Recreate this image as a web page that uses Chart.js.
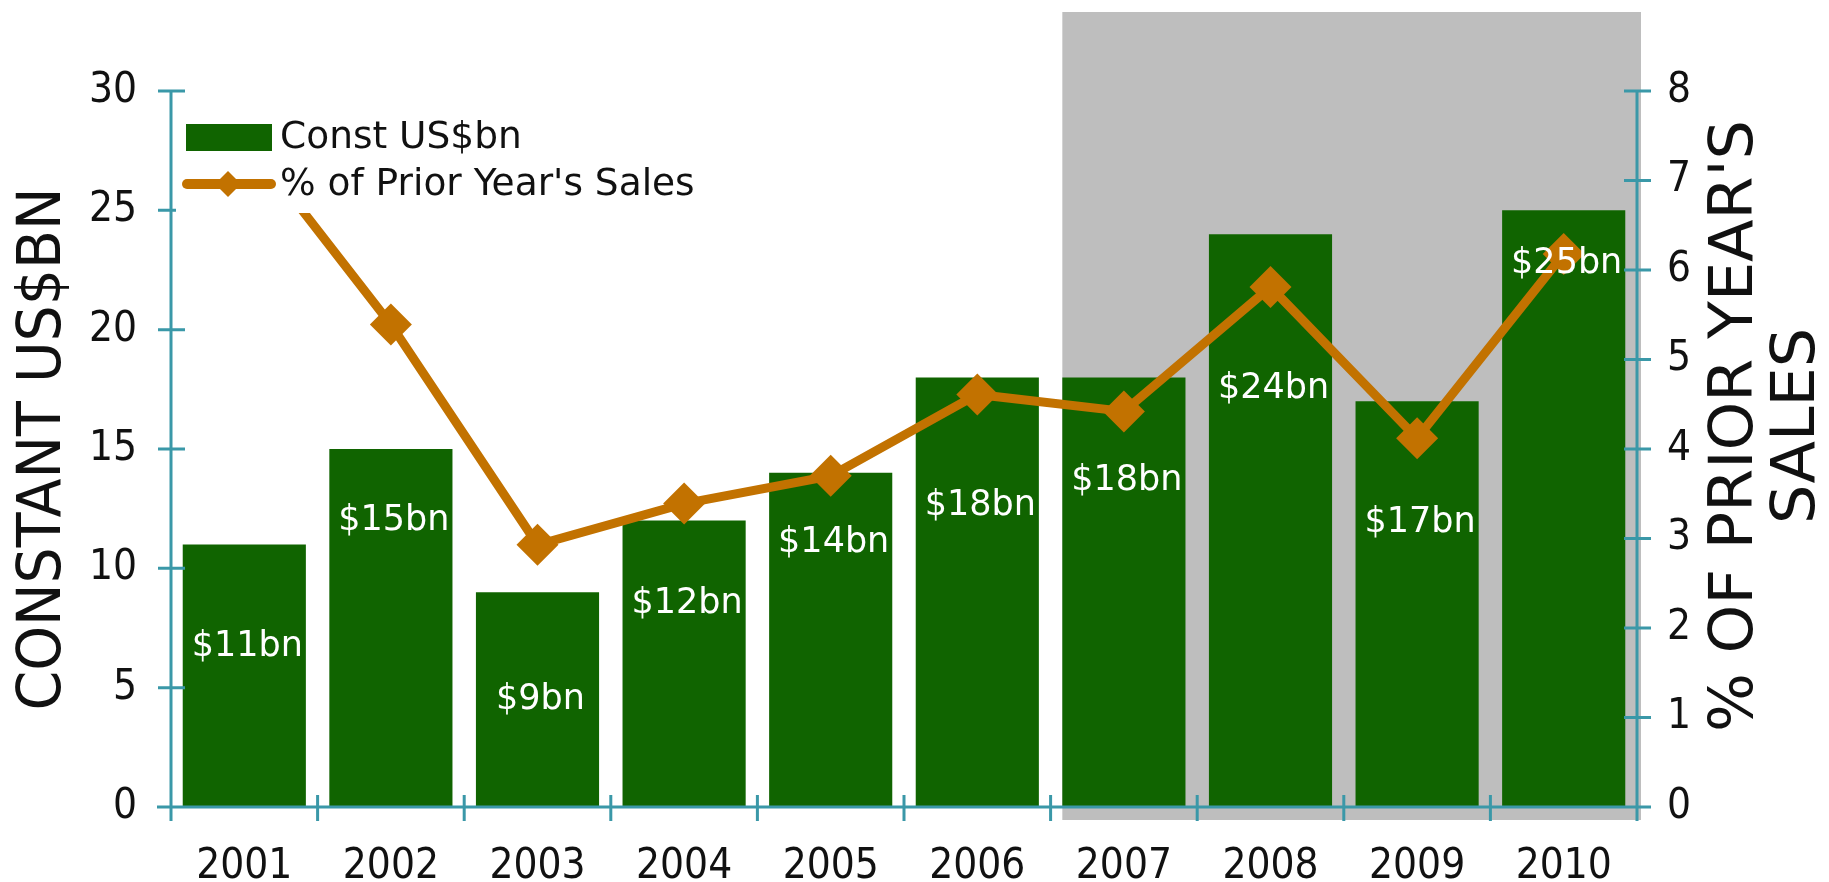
<!DOCTYPE html>
<html>
<head>
<meta charset="utf-8">
<script src="https://cdn.jsdelivr.net/npm/chart.js@4.4.1/dist/chart.umd.min.js"></script>
<style>
  html, body { margin: 0; padding: 0; background: #ffffff; }
  #wrap { width: 1829px; height: 882px; position: relative; }
  canvas { display: block; }
</style>
</head>
<body>
<div id="wrap"><canvas id="chart" width="1829" height="882"></canvas></div>
<script>
// ---------------- data ----------------
const years = ['2001', '2002', '2003', '2004', '2005', '2006', '2007', '2008', '2009', '2010'];
const constUSbn = [11, 15, 9, 12, 14, 18, 18, 24, 17, 25];
const pctPriorYearSales = [7.5, 5.39, 2.93, 3.39, 3.70, 4.61, 4.42, 5.81, 4.12, 6.18];
const barValueLabels = ['$11bn', '$15bn', '$9bn', '$12bn', '$14bn', '$18bn', '$18bn', '$24bn', '$17bn', '$25bn'];
const leftTicks = [0, 5, 10, 15, 20, 25, 30];
const rightTicks = [0, 1, 2, 3, 4, 5, 6, 7, 8];
const seriesNames = ['Const US$bn', "% of Prior Year's Sales"];
const leftTitle = 'CONSTANT US$BN';
const rightTitleLines = ["% OF PRIOR YEAR'S", 'SALES'];
const shadedFromIndex = 6; // shaded period starts at 2007

// ---------------- style ----------------
const GREEN = '#106400';
const ORANGE = '#C27200';
const AXIS = '#3A98A8';
const SHADE = '#BEBEBE';
const TXT = '#111111';
const COND = "'DejaVu Sans Condensed', 'DejaVu Sans', sans-serif";
const SANS = "'DejaVu Sans', Verdana, sans-serif";
// vertical placement of each in-bar label, as a fraction of the bar height
const labelHeightFrac = [0.61, 0.80, 0.50, 0.71, 0.79, 0.70, 0.76, 0.73, 0.70, 0.91];

function drawStretchedText(ctx, text, cx, cy, font, targetLen) {
  ctx.font = font;
  const w = ctx.measureText(text).width;
  const s = targetLen ? targetLen / w : 1;
  ctx.save();
  ctx.translate(cx, cy);
  ctx.rotate(-Math.PI / 2);
  ctx.scale(s, 1);
  ctx.fillText(text, 0, 0);
  ctx.restore();
  return s;
}

const shadePlugin = {
  id: 'shade',
  beforeDatasetsDraw(chart) {
    const { ctx, chartArea } = chart;
    const barMeta = chart.getDatasetMeta(1);
    const el = barMeta.data[shadedFromIndex];
    const x0 = el.x - el.width / 2;
    ctx.save();
    ctx.fillStyle = SHADE;
    ctx.fillRect(x0, chartArea.top - 79, chartArea.right + 4 - x0, chartArea.bottom + 13 - (chartArea.top - 79));
    ctx.restore();
  }
};

const overlayPlugin = {
  id: 'overlay',
  afterDatasetsDraw(chart) {
    const { ctx, chartArea, scales } = chart;
    const xs = scales.x, yl = scales.y, yr = scales.y1;
    const L = chartArea.left, R = chartArea.right, B = chartArea.bottom, T = chartArea.top;
    ctx.save();
    // axes
    ctx.strokeStyle = AXIS;
    ctx.lineWidth = 3;
    ctx.lineCap = 'butt';
    ctx.beginPath();
    ctx.moveTo(L, T); ctx.lineTo(L, B + 14);
    ctx.moveTo(R, T); ctx.lineTo(R, B + 14);
    ctx.moveTo(L - 14, B); ctx.lineTo(R + 14, B);
    leftTicks.forEach(v => { const y = yl.getPixelForValue(v); ctx.moveTo(L - 13, y); ctx.lineTo(L + 14, y); });
    rightTicks.forEach(v => { const y = yr.getPixelForValue(v); ctx.moveTo(R - 13, y); ctx.lineTo(R + 14, y); });
    const n = years.length;
    for (let i = 0; i <= n; i++) {
      const x = xs.getPixelForValue(i - 0.5);
      ctx.moveTo(x, B - 12); ctx.lineTo(x, B + 14);
    }
    ctx.stroke();

    // in-bar value labels
    const barMeta = chart.getDatasetMeta(1);
    ctx.fillStyle = '#ffffff';
    ctx.font = '35px ' + SANS;
    ctx.textAlign = 'center';
    ctx.textBaseline = 'middle';
    barMeta.data.forEach((el, i) => {
      const y = yl.getPixelForValue(constUSbn[i] * labelHeightFrac[i]);
      ctx.fillText(barValueLabels[i], el.x + 3, y);
    });

    // legend (white box drawn over the plot)
    ctx.fillStyle = '#ffffff';
    ctx.fillRect(L + 5, T + 10, 540, 112);
    ctx.fillStyle = GREEN;
    ctx.fillRect(L + 15, T + 33, 86, 27);
    ctx.strokeStyle = ORANGE;
    ctx.lineWidth = 10;
    ctx.lineCap = 'round';
    ctx.beginPath();
    ctx.moveTo(L + 16, T + 93); ctx.lineTo(L + 100, T + 93);
    ctx.stroke();
    ctx.fillStyle = ORANGE;
    ctx.beginPath();
    const dx = L + 57, dy = T + 93, r = 13;
    ctx.moveTo(dx - r, dy); ctx.lineTo(dx, dy - r); ctx.lineTo(dx + r, dy); ctx.lineTo(dx, dy + r); ctx.closePath();
    ctx.fill();
    ctx.fillStyle = TXT;
    ctx.font = '37.5px ' + SANS;
    ctx.textAlign = 'left';
    ctx.textBaseline = 'middle';
    ctx.fillText(seriesNames[0], L + 109, T + 47);
    ctx.fillText(seriesNames[1], L + 109, T + 94);

    // axis titles (both read bottom to top)
    ctx.fillStyle = TXT;
    ctx.textAlign = 'center';
    ctx.textBaseline = 'middle';
    drawStretchedText(ctx, leftTitle, 44, (T + B) / 2, '60px ' + COND, 523);
    const s = drawStretchedText(ctx, rightTitleLines[0], 1736, 426, '60px ' + COND, 612);
    ctx.font = '60px ' + COND;
    const w2 = ctx.measureText(rightTitleLines[1]).width * s;
    drawStretchedText(ctx, rightTitleLines[1], 1798, 426, '60px ' + COND, w2);

    ctx.restore();
  }
};

new Chart(document.getElementById('chart'), {
  data: {
    labels: years,
    datasets: [
      {
        type: 'line',
        label: seriesNames[1],
        data: pctPriorYearSales,
        yAxisID: 'y1',
        borderColor: ORANGE,
        backgroundColor: ORANGE,
        borderWidth: 9,
        tension: 0,
        pointStyle: 'rectRot',
        pointRadius: 21,
        pointHoverRadius: 21,
        pointBorderWidth: 0,
        pointBackgroundColor: ORANGE,
        order: 0
      },
      {
        type: 'bar',
        label: seriesNames[0],
        data: constUSbn,
        yAxisID: 'y',
        backgroundColor: GREEN,
        borderWidth: 0,
        barPercentage: 0.84,
        categoryPercentage: 1.0,
        order: 1
      }
    ]
  },
  options: {
    responsive: false,
    animation: false,
    events: [],
    layout: { padding: { top: 91, left: 0, right: 0, bottom: 0 } },
    plugins: { legend: { display: false }, tooltip: { enabled: false }, title: { display: false } },
    scales: {
      x: {
        type: 'category',
        offset: true,
        grid: { display: false, drawTicks: false },
        border: { display: false },
        ticks: { color: TXT, font: { family: COND, size: 42 }, padding: 35, maxRotation: 0, autoSkip: false },
        afterFit(s) { s.height = 75; }
      },
      y: {
        position: 'left',
        min: 0, max: 30,
        afterBuildTicks(s) { s.ticks = leftTicks.map(v => ({ value: v })); },
        grid: { display: false, drawTicks: false },
        border: { display: false },
        ticks: { color: TXT, font: { family: COND, size: 42 }, padding: 34 },
        afterFit(s) { s.width = 171; }
      },
      y1: {
        position: 'right',
        min: 0, max: 8,
        afterBuildTicks(s) { s.ticks = rightTicks.map(v => ({ value: v })); },
        grid: { display: false, drawTicks: false },
        border: { display: false },
        ticks: { color: TXT, font: { family: COND, size: 42 }, padding: 30 },
        afterFit(s) { s.width = 192; }
      }
    }
  },
  plugins: [shadePlugin, overlayPlugin]
});
</script>
</body>
</html>
